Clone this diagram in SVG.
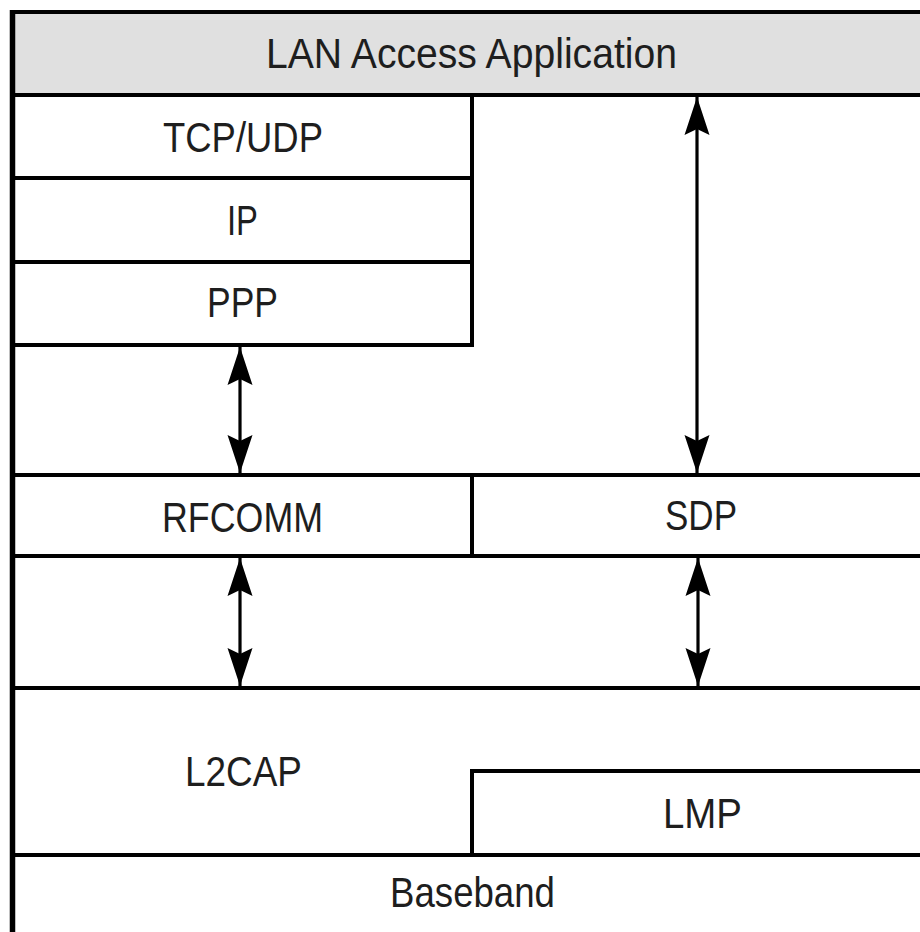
<svg xmlns="http://www.w3.org/2000/svg" width="920" height="932" viewBox="0 0 920 932">
<style>
.box{fill:#ffffff;stroke:#000;stroke-width:4}
.app{fill:#e0e0e0;stroke:#000;stroke-width:4}
.lbl{font-family:"Liberation Sans",Arial,sans-serif;font-size:43px;fill:#1e1e1e;text-anchor:middle}
.conn{stroke:#000;stroke-width:3.2;fill:none;marker-start:url(#ah);marker-end:url(#ah)}
</style>
<defs>
<marker id="ah" markerUnits="userSpaceOnUse" viewBox="-40 -14 41 28" refX="0" refY="0" markerWidth="41" markerHeight="28" orient="auto-start-reverse">
<path d="M0,0 L-38,-12.5 L-32,0 L-38,12.5 Z" fill="#000"/>
</marker>
</defs>
<rect width="920" height="932" fill="#fff"/>
<g id="lan-access-application">
<rect class="app" x="12.5" y="12" width="920" height="83"/>
<text class="lbl" x="471.5" y="68" textLength="411" lengthAdjust="spacingAndGlyphs">LAN Access Application</text>
</g>
<g id="tcp-udp">
<rect class="box" x="12.5" y="95" width="459.5" height="83"/>
<text class="lbl" x="243" y="152" textLength="160" lengthAdjust="spacingAndGlyphs">TCP/UDP</text>
</g>
<g id="ip">
<rect class="box" x="12.5" y="178" width="459.5" height="84"/>
<text class="lbl" x="242.5" y="235" textLength="31" lengthAdjust="spacingAndGlyphs">IP</text>
</g>
<g id="ppp">
<rect class="box" x="12.5" y="262" width="459.5" height="83"/>
<text class="lbl" x="242.5" y="317" textLength="71" lengthAdjust="spacingAndGlyphs">PPP</text>
</g>
<g id="rfcomm">
<rect class="box" x="12.5" y="475" width="459.5" height="81"/>
<text class="lbl" x="242.5" y="532" textLength="161" lengthAdjust="spacingAndGlyphs">RFCOMM</text>
</g>
<g id="sdp">
<rect class="box" x="472" y="475" width="460" height="81"/>
<text class="lbl" x="701" y="530" textLength="72" lengthAdjust="spacingAndGlyphs">SDP</text>
</g>
<g id="l2cap">
<rect class="box" x="12.5" y="688" width="920" height="167"/>
<text class="lbl" x="243.5" y="786" textLength="117" lengthAdjust="spacingAndGlyphs">L2CAP</text>
</g>
<g id="lmp">
<rect class="box" x="472" y="771" width="460" height="84"/>
<text class="lbl" x="702.5" y="828" textLength="79" lengthAdjust="spacingAndGlyphs">LMP</text>
</g>
<g id="baseband">
<rect class="box" x="12.5" y="855" width="920" height="95"/>
<text class="lbl" x="472.5" y="907" textLength="165" lengthAdjust="spacingAndGlyphs">Baseband</text>
</g>
<g id="frame">
<line x1="12.5" y1="10" x2="12.5" y2="932" stroke="#000" stroke-width="5.5"/>
</g>
<g id="connectors">
<line class="conn" x1="240" y1="347" x2="240" y2="473"/>
<line class="conn" x1="697" y1="97" x2="697" y2="473"/>
<line class="conn" x1="240" y1="558" x2="240" y2="686"/>
<line class="conn" x1="698" y1="558" x2="698" y2="686"/>
</g>
</svg>
